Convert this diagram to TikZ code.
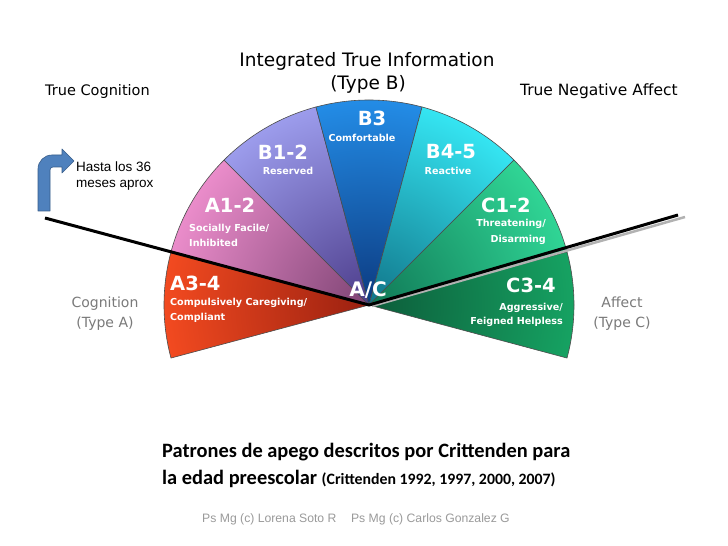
\documentclass[tikz,border=0pt]{standalone}
\usepackage{fontspec}
\setmainfont{DejaVu Sans}
\newfontfamily\comicf{DejaVu Sans}
\newfontfamily\calibf{Carlito}
\newfontfamily\arialf{Liberation Sans}
\definecolor{Ain}{HTML}{9A2010}\definecolor{Aout}{HTML}{F24A20}
\definecolor{Bin}{HTML}{7E4474}\definecolor{Bout}{HTML}{EA8CCA}
\definecolor{Cin}{HTML}{4C3C8A}\definecolor{Cout}{HTML}{9C9CEC}
\definecolor{Din}{HTML}{0C3A80}\definecolor{Dout}{HTML}{238CE6}
\definecolor{Ein}{HTML}{107488}\definecolor{Eout}{HTML}{35E5F2}
\definecolor{Fin}{HTML}{107856}\definecolor{Fout}{HTML}{30D595}
\definecolor{Gin}{HTML}{0C5C3A}\definecolor{Gout}{HTML}{16A262}
\definecolor{arrowblue}{HTML}{4F81BD}\definecolor{arrowedge}{HTML}{385D8A}
\definecolor{typegray}{HTML}{7A7A7A}\definecolor{footgray}{HTML}{9A9A9A}
\newcommand\fanwedge[4]{%
  \begin{scope}
    \clip (O) -- ++(#1:205pt) arc[start angle=#1,end angle=#2,radius=205pt] -- cycle;
    \shade[inner color=#3,outer color=#4] (O) circle (205pt);
  \end{scope}
  \draw[wedgeedge] (O) -- ++(#1:205pt) arc[start angle=#1,end angle=#2,radius=205pt] -- cycle;
}
\tikzset{
  wedgeedge/.style={draw=black!70,line width=0.6pt,line join=round},
  biglab/.style={text=white,font=\comicf\bfseries\fontsize{19.5}{19.5}\selectfont,inner sep=0pt},
  smalllab/.style={text=white,font=\comicf\bfseries\fontsize{9.6}{11}\selectfont,inner sep=0pt},
  headlab/.style={text=black,font=\comicf\fontsize{14.5}{17}\selectfont,inner sep=0pt},
  typelab/.style={text=typegray,font=\comicf\fontsize{14}{20}\selectfont,inner sep=0pt,align=center},
  mainline/.style={line width=3pt,black},
}
\begin{document}
\begin{tikzpicture}[x=1pt,y=1pt]
\useasboundingbox (0,0) rectangle (728,546);
\fill[white] (0,0) rectangle (728,546);
\coordinate (O) at (369,241);
% fan
\fanwedge{195}{165}{Ain}{Aout}
\fanwedge{165}{135}{Bin}{Bout}
\fanwedge{135}{105}{Cin}{Cout}
\fanwedge{105}{75}{Din}{Dout}
\fanwedge{75}{45}{Ein}{Eout}
\fanwedge{45}{15}{Fin}{Fout}
\fanwedge{15}{-15}{Gin}{Gout}
% lines
\coordinate (Lend) at (45,328);
\coordinate (Rend) at (678,331);
\coordinate (Sstart) at (372,240);
\coordinate (Send) at (685,329);
\draw[line width=2.5pt,black!30] (Sstart) -- (Send);
\draw[mainline] (Lend) -- (O) -- (Rend);
% wedge labels
\node[biglab] (nb3) at (372,428) {B3};
\node[smalllab] (sb3) at (362,408) {Comfortable};
\node[biglab] (nb12) at (283,394) {B1-2};
\node[smalllab] (sb12) at (288,375) {Reserved};
\node[biglab] (nb45) at (451,394) {B4-5};
\node[smalllab] (sb45) at (448,375) {Reactive};
\node[biglab] (na12) at (230,341) {A1-2};
\node[smalllab,anchor=west] (sa12a) at (189,317) {Socially Facile/};
\node[smalllab,anchor=west] (sa12b) at (189,303) {Inhibited};
\node[biglab] (nc12) at (506,341) {C1-2};
\node[smalllab,anchor=east] (sc12a) at (546,322) {Threatening/};
\node[smalllab,anchor=east] (sc12b) at (546,306) {Disarming};
\node[biglab,anchor=west] (na34) at (170,263) {A3-4};
\node[smalllab,anchor=west] (sa34a) at (170,243) {Compulsively Caregiving/};
\node[smalllab,anchor=west] (sa34b) at (170,228) {Compliant};
\node[biglab] (nc34) at (531,261) {C3-4};
\node[smalllab,anchor=east] (sc34a) at (563,238) {Aggressive/};
\node[smalllab,anchor=east] (sc34b) at (563,224) {Feigned Helpless};
\node[biglab,font=\comicf\bfseries\fontsize{20}{20}\selectfont] (nac) at (368,256) {A/C};
% headings
\node[headlab,font=\comicf\fontsize{18.5}{20}\selectfont] (hint) at (367,485) {Integrated True Information};
\node[headlab,font=\comicf\fontsize{18.5}{20}\selectfont] (htb) at (368,462) {(Type B)};
\node[headlab,anchor=west] (htc) at (45,454) {True Cognition};
\node[headlab,anchor=east,font=\comicf\fontsize{15.5}{17}\selectfont] (htn) at (678,455) {True Negative Affect};
\node[typelab] (tca) at (105,232) {Cognition\\(Type A)};
\node[typelab] (tac) at (622,232) {Affect\\(Type C)};
% bent arrow
\fill[arrowblue,draw=arrowedge,line width=0.6pt,line join=round]
  (38,335) -- (38,377) arc[start angle=180,end angle=90,radius=14pt]
  -- (62,391) -- (62,397) -- (74,385) -- (62,373) -- (62,379) -- (53,379)
  arc[start angle=90,end angle=180,radius=3pt] -- (50,335) -- cycle;
\node[anchor=west,inner sep=0pt,align=left,font=\arialf\fontsize{13.5}{16.5}\selectfont] (hasta) at (76,370) {Hasta los 36\\meses aprox};
% bottom text
\node[anchor=west,inner sep=0pt,font=\calibf\bfseries\fontsize{20.4}{20}\selectfont] (pat1) at (162,94) {Patrones de apego descritos por Crittenden para};
\node[anchor=west,inner sep=0pt,font=\calibf\bfseries\fontsize{20.4}{20}\selectfont] (pat2) at (162,67) {la edad preescolar {\fontsize{15.8}{16}\selectfont (Crittenden 1992, 1997, 2000, 2007)}};
\node[inner sep=0pt,text=footgray,font=\arialf\fontsize{12.2}{12}\selectfont] (foot) at (356,27) {Ps Mg (c) Lorena Soto R\hspace{1.2em}Ps Mg (c) Carlos Gonzalez G};
\end{tikzpicture}
\end{document}
